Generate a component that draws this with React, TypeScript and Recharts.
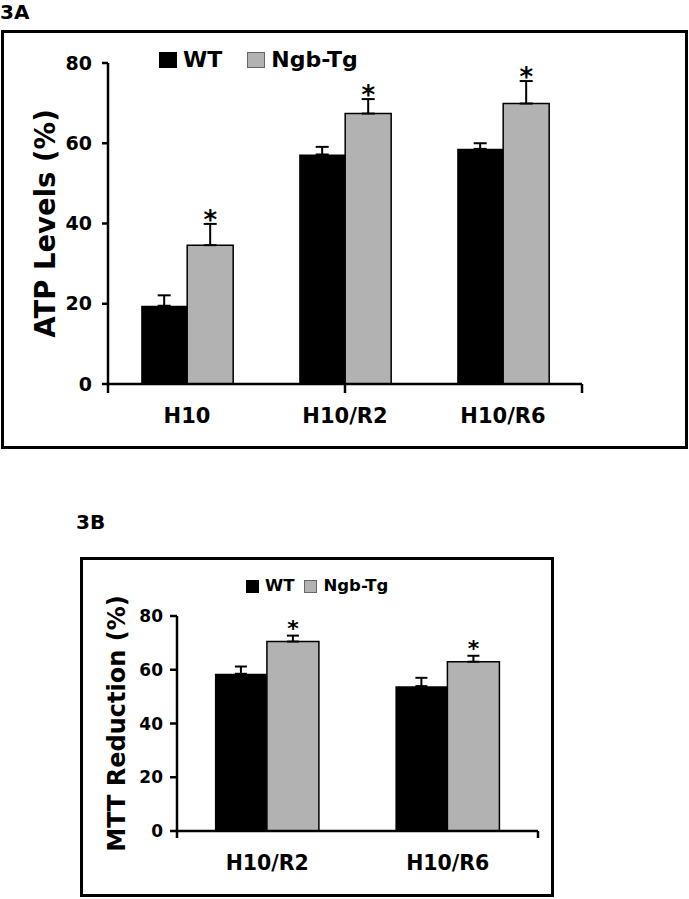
import React from 'react';
import { BarChart, Bar, XAxis, YAxis, ErrorBar, LabelList, Legend } from 'recharts';

const FONT = '"DejaVu Sans", Verdana, sans-serif';

// 3A - ATP levels (%)
const catsA = ['H10', 'H10/R2', 'H10/R6'];
const wtA = [19.5, 57.2, 58.6];
const wtErrA = [2.6, 1.9, 1.4];
const ngbA = [34.6, 67.4, 69.9];
const ngbErrA = [5.3, 3.6, 5.6];
const sigA = [true, true, true];

// 3B - MTT reduction (%)
const catsB = ['H10/R2', 'H10/R6'];
const wtB = [58.5, 53.9];
const wtErrB = [2.7, 3.1];
const ngbB = [70.5, 63.0];
const ngbErrB = [2.2, 2.2];
const sigB = [true, true];

const yTicks = [0, 20, 40, 60, 80];
const seriesNames = ['WT', 'Ngb-Tg'];

const buildRows = (cats: string[], wt: number[], wtErr: number[], ngb: number[], ngbErr: number[], sig: boolean[]) =>
  cats.map((cat, i) => ({
    cat,
    wt: wt[i],
    wtErr: [0, wtErr[i]], // only the upper whisker is drawn
    ngb: ngb[i],
    ngbErr: [0, ngbErr[i]],
    sig: sig[i],
  }));

const rowsA = buildRows(catsA, wtA, wtErrA, ngbA, ngbErrA, sigA);
const rowsB = buildRows(catsB, wtB, wtErrB, ngbB, ngbErrB, sigB);

// asterisk above the error bar of the Ngb-Tg bar
const starContent = (size: number, lift: number) => (props: any) => {
  const row = props.value;
  const vb = props.viewBox || props;
  if (!row || !row.sig) return null;
  const { x, y, width, height } = vb;
  const perUnit = height / row.ngb;
  const top = y - row.ngbErr[1] * perUnit;
  return (
    <text x={x + width / 2} y={top - lift} textAnchor="middle" fontFamily={FONT} fontWeight={700} fontSize={size} fill="#000">
      *
    </text>
  );
};

const legendContent = (boxW: number, boxH: number, fs: number, gapInner: number, gapOuter: number) => (props: any) => {
  const items = [...(props.payload || [])].sort(
    (a: any, b: any) => seriesNames.indexOf(a.value) - seriesNames.indexOf(b.value)
  );
  return (
    <div style={{ display: 'flex', alignItems: 'center', fontFamily: FONT, fontWeight: 700, fontSize: fs, lineHeight: 1, color: '#000' }}>
      {items.map((p: any, i: number) => (
        <div key={p.value} style={{ display: 'flex', alignItems: 'center', marginLeft: i ? gapOuter : 0 }}>
          <span
            style={{
              display: 'inline-block',
              width: boxW,
              height: boxH,
              background: p.color,
              border: i ? '1px solid #666' : 'none',
              boxSizing: 'border-box',
              marginRight: gapInner,
            }}
          />
          <span>{p.value}</span>
        </div>
      ))}
    </div>
  );
};

const AxisTitle = (props: any) => {
  const { viewBox, text, cx, size } = props;
  const midY = viewBox.y + viewBox.height / 2;
  return (
    <text
      x={cx}
      y={midY}
      transform={`rotate(-90 ${cx} ${midY})`}
      textAnchor="middle"
      dominantBaseline="central"
      fontFamily={FONT}
      fontWeight={700}
      fontSize={size}
      fill="#000"
    >
      {text}
    </text>
  );
};

const Panel = (props: any) => {
  const { rows, width, height, margin, title, titleX, titleSize, tickSize, yTickSize, yTickMargin,
    catSize, catMargin, edgeTick, capW, star, legend } = props;
  const edges = rows.map((_: any, i: number) => i).concat(rows.length);
  const axisStroke = { stroke: '#000', strokeWidth: 2.5 };
  return (
    <BarChart width={width} height={height} data={rows} margin={margin} barCategoryGap="21%" barGap={0}>
      <XAxis
        xAxisId="a"
        type="number"
        domain={[0, rows.length]}
        ticks={edges}
        allowDataOverflow
        height={edgeTick + 1}
        tickSize={edgeTick}
        tickFormatter={() => ''}
        axisLine={axisStroke}
        tickLine={axisStroke}
      />
      <XAxis
        xAxisId="b"
        dataKey="cat"
        interval={0}
        height={40}
        axisLine={false}
        tickLine={false}
        tickSize={0}
        tickMargin={catMargin}
        tick={{ fill: '#000', fontSize: catSize, fontWeight: 700, fontFamily: FONT }}
      />
      <YAxis
        type="number"
        domain={[0, 80]}
        ticks={yTicks}
        width={60}
        tickSize={yTickSize}
        tickMargin={yTickMargin}
        axisLine={axisStroke}
        tickLine={axisStroke}
        tick={{ fill: '#000', fontSize: tickSize, fontWeight: 700, fontFamily: FONT }}
        label={<AxisTitle text={title} cx={titleX} size={titleSize} />}
      />
      <Legend
        verticalAlign="middle"
        align="center"
        layout="horizontal"
        wrapperStyle={{ left: legend.left, top: legend.top, width: 'auto' }}
        content={legendContent(legend.boxW, legend.boxH, legend.fs, legend.gapInner, legend.gapOuter)}
      />
      <Bar xAxisId="b" dataKey="wt" name="WT" fill="#000" isAnimationActive={false}>
        <ErrorBar dataKey="wtErr" width={capW} stroke="#000" strokeWidth={2} direction="y" isAnimationActive={false} />
      </Bar>
      <Bar xAxisId="b" dataKey="ngb" name="Ngb-Tg" fill="#b2b2b2" stroke="#000" strokeWidth={1.5} isAnimationActive={false}>
        <ErrorBar dataKey="ngbErr" width={capW} stroke="#000" strokeWidth={2} direction="y" isAnimationActive={false} />
        <LabelList dataKey={(d: any) => d} content={starContent(star.size, star.lift)} />
      </Bar>
    </BarChart>
  );
};

const frame = (left: number, top: number, w: number, h: number): React.CSSProperties => ({
  position: 'absolute',
  left,
  top,
  width: w,
  height: h,
  border: '3px solid #000',
  boxSizing: 'border-box',
});

export default function App() {
  return (
    <div style={{ position: 'absolute', left: 0, top: 0, width: 689, height: 899, background: '#fff', overflow: 'hidden' }}>
      <div style={{ position: 'absolute', left: 0, top: 2, fontFamily: FONT, fontWeight: 700, fontSize: 20, lineHeight: 1 }}>3A</div>
      <div style={frame(1, 30, 687, 419)} />
      <div style={{ position: 'absolute', left: 0, top: 0 }}>
        <Panel
          rows={rowsA}
          width={689}
          height={450}
          margin={{ top: 63, right: 107, bottom: 16, left: 48 }}
          title="ATP Levels (%)"
          titleX={45}
          titleSize={27.5}
          tickSize={19}
          yTickSize={6}
          yTickMargin={10}
          catSize={21}
          catMargin={14}
          edgeTick={9}
          capW={6.5}
          star={{ size: 26, lift: -5 }}
          legend={{ left: 159, top: 49, boxW: 18, boxH: 16, fs: 22, gapInner: 6, gapOuter: 25 }}
        />
      </div>

      <div style={{ position: 'absolute', left: 76, top: 512, fontFamily: FONT, fontWeight: 700, fontSize: 20, lineHeight: 1 }}>3B</div>
      <div style={frame(80, 557, 474, 340)} />
      <div style={{ position: 'absolute', left: 0, top: 480 }}>
        <Panel
          rows={rowsB}
          width={689}
          height={419}
          margin={{ top: 136, right: 151, bottom: 20, left: 117 }}
          title="MTT Reduction (%)"
          titleX={117}
          titleSize={24}
          tickSize={17}
          yTickSize={7}
          yTickMargin={7}
          catSize={20.5}
          catMargin={16}
          edgeTick={7}
          capW={6}
          star={{ size: 22, lift: 0 }}
          legend={{ left: 246, top: 98, boxW: 13, boxH: 13, fs: 16.5, gapInner: 6, gapOuter: 10 }}
        />
      </div>
    </div>
  );
}
